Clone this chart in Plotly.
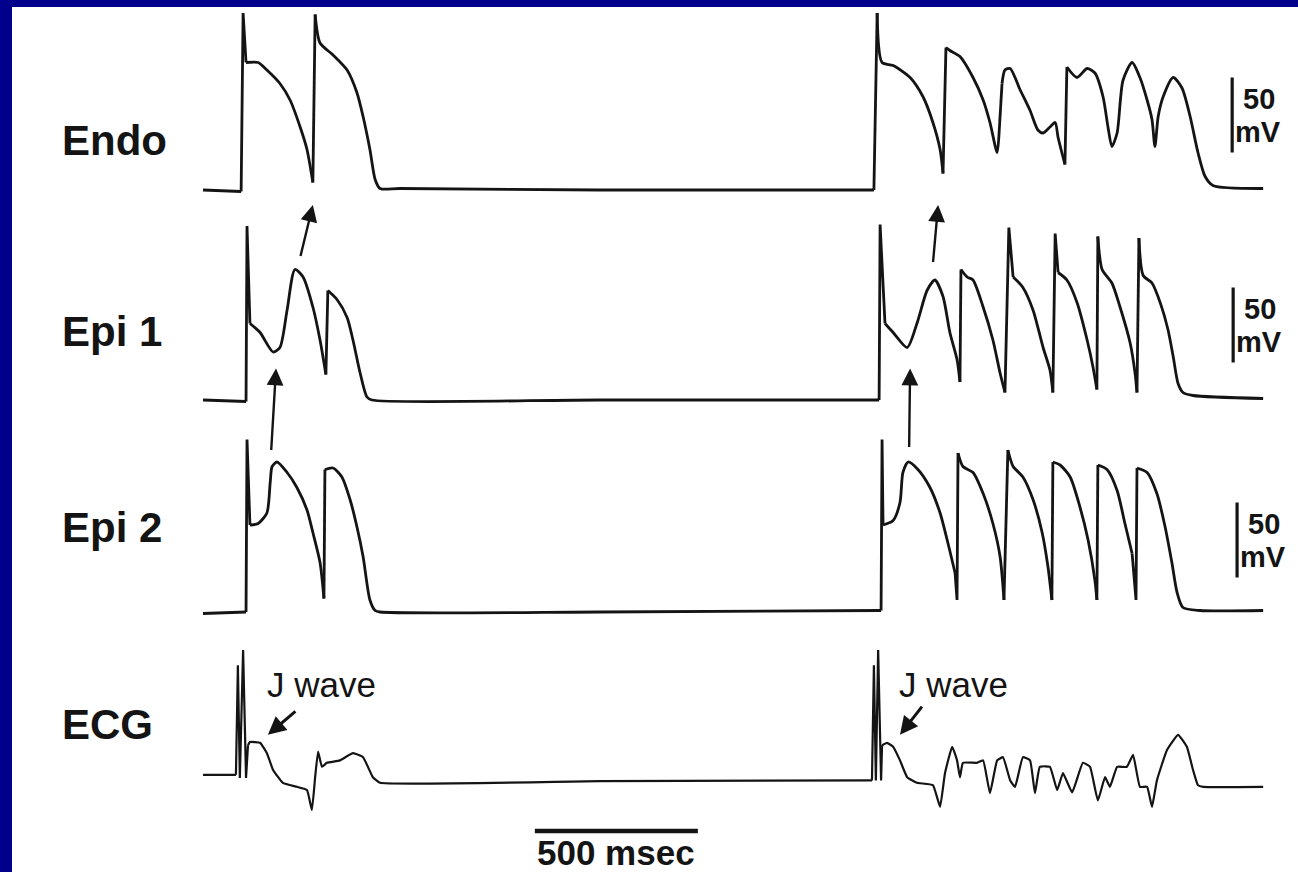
import plotly.graph_objects as go

# ---------------- data (time in ms, potentials in mV) ----------------
endo_t = [0, 117, 123, 132, 169, 196, 236, 267, 298, 319, 337, 344, 359, 399, 442, 472, 491, 512, 528, 543,
          604, 1218, 2058,
          2068, 2083, 2117, 2169, 2209, 2239, 2261, 2270, 2279, 2291, 2322, 2362, 2393, 2414, 2436, 2442, 2451,
          2460, 2476, 2506, 2537, 2561, 2577, 2598, 2614, 2623, 2644, 2650, 2681, 2712, 2736, 2761, 2776, 2788,
          2804, 2822, 2850, 2874, 2896, 2911, 2920, 2930, 2945, 2976, 3003, 3028, 3052, 3074, 3098, 3252]
endo_v = [-85, -86, 33, 0, 0, -5, -14, -25, -43, -58, -80, 32, 13, 5, -5, -20, -36, -58, -78, -84,
          -84, -85, -85,
          33, 0, -2, -10, -23, -40, -58, -74, 10, 8, 4, -10, -25, -40, -60, -47, -14,
          -5, -4, -18, -32, -45, -47, -43, -40, -50, -68, -3, -10, -4, -7, -23, -43, -56,
          -47, -12, 0, -10, -25, -38, -56, -36, -23, -10, -17, -36, -60, -76, -82, -84]

epi1_t = [0, 132, 135, 144, 175, 215, 236, 258, 282, 307, 337, 359, 377, 383, 411, 442, 460, 482, 503, 518,
          1218, 2074,
          2077, 2092, 2117, 2160, 2190, 2221, 2245, 2270, 2291, 2313, 2322, 2325, 2344, 2362, 2393, 2423, 2445,
          2460, 2472, 2485, 2515, 2546, 2577, 2598, 2607, 2614, 2623, 2650, 2681, 2712, 2730, 2742, 2745, 2758,
          2788, 2813, 2844, 2859, 2865, 2871, 2884, 2911, 2936, 2960, 2976, 2991, 3006, 3037, 3252]
epi1_v = [-85, -86, 31, -34, -40, -53, -50, -25, 2, -3, -23, -45, -68, -12, -18, -30, -45, -67, -83, -85,
          -85, -85,
          32, -34, -40, -50, -34, -12, -5, -16, -40, -58, -73, 2, -3, -5, -23, -45, -67,
          -80, 30, -3, -10, -25, -50, -65, -80, 26, 0, -5, -20, -45, -63, -78, 24, 2,
          -7, -23, -47, -67, -80, 23, -2, -7, -20, -38, -56, -74, -80, -82, -84]

epi2_t = [0, 132, 135, 144, 169, 196, 206, 212, 227, 258, 288, 319, 337, 359, 371, 374, 399, 426, 451, 472,
          491, 512, 528, 543, 1218, 2080,
          2083, 2086, 2117, 2138, 2147, 2163, 2193, 2230, 2261, 2285, 2307, 2313, 2316, 2331, 2362, 2393, 2423,
          2445, 2457, 2469, 2485, 2515, 2546, 2574, 2592, 2604, 2607, 2629, 2660, 2690, 2715, 2736, 2742, 2745,
          2773, 2804, 2828, 2850, 2862, 2865, 2896, 2926, 2951, 2972, 2988, 3006, 3058, 3252]
epi2_v = [-86, -85, 30, -27, -26, -19, 1, 12, 15, 8, -2, -17, -32, -52, -76, 10, 11, 5, -10, -28,
          -48, -77, -84, -85, -85, -84,
          30, -27, -24, -12, 8, 15, 10, -2, -19, -39, -59, -77, 21, 12, 8, -6, -26,
          -48, -77, 23, 12, 5, -10, -32, -55, -77, 15, 13, 5, -15, -37, -64, -77, 13,
          10, -4, -26, -46, -77, 11, 8, -6, -28, -52, -72, -82, -84, -84]

ecg_t = [0, 101, 107, 113, 123, 132, 138, 144, 175, 196, 215, 245, 288, 319, 334, 344, 353, 365, 380, 420,
         460, 491, 521, 543, 1218, 2052,
         2058, 2064, 2071, 2080, 2083, 2098, 2117, 2138, 2160, 2190, 2239, 2261, 2276, 2298, 2313, 2322, 2331,
         2374, 2393, 2414, 2436, 2454, 2476, 2491, 2515, 2537, 2552, 2567, 2598, 2620, 2638, 2666, 2699, 2721,
         2745, 2767, 2782, 2804, 2834, 2853, 2874, 2896, 2911, 2926, 2957, 2991, 3018, 3037, 3052, 3068, 3252]
ecg_mv = [0.04, 0.04, 1.41, 0.0, 1.6, 0.0, 0.41, 0.45, 0.44, 0.31, 0.10, -0.06, -0.11, -0.15, -0.40, 0.01, 0.33,
          0.14, 0.19, 0.22, 0.31, 0.26, 0.01, -0.06, -0.04, -0.03,
          1.41, -0.03, 1.6, -0.03, 0.41, 0.44, 0.39, 0.22, 0.01, -0.06, -0.09, -0.36, 0.06, 0.39, 0.22, 0.01, 0.19,
          0.19, 0.22, -0.19, 0.22, 0.26, -0.03, -0.11, 0.26, 0.22, -0.19, 0.14, 0.14, -0.15, 0.06, -0.18, 0.19, 0.14,
          -0.28, 0.01, -0.11, 0.14, 0.14, 0.29, -0.11, -0.11, -0.36, -0.03, 0.35, 0.54, 0.39, 0.10, -0.09, -0.11, -0.11]

trace_labels = ["Endo", "Epi 1", "Epi 2", "ECG"]
scale_time_ms = 500
scale_volt_mv = 50
jwave_label = "J wave"

# ---------------- layout helpers ----------------
W, H = 1298, 872
ML, MT = 12, 7
PX_PER_MV = 1.5          # vertical scale of action potentials
MS_PER_PX = 500 / 163.0  # horizontal scale
ECG_GAIN = 80 / PX_PER_MV  # display units per ECG mV
X0_PX = 203               # pixel of t = 0

def yd(px):
    """display y value for a pixel row"""
    return (H - px) / PX_PER_MV

def td(px):
    return (px - X0_PX) * MS_PER_PX

OFF = {
    "Endo": yd(190) + 85,
    "Epi 1": yd(400) + 85,
    "Epi 2": yd(612) + 85,
}
ECG_BASE = yd(778)

def ap_y(name, vals):
    return [OFF[name] + v for v in vals]

def ecg_y(vals):
    return [ECG_BASE + ECG_GAIN * v for v in vals]

INK = "#141414"
fig = go.Figure()


def add_record(t, y, width, smoothing, thr=2.5):
    """Steep stretches (upstrokes, spikes) drawn straight, the rest as smooth splines."""
    n = len(t)
    steep = [abs(y[i + 1] - y[i]) / max(t[i + 1] - t[i], 1e-9) > thr for i in range(n - 1)]
    i = 0
    while i < n - 1:
        j = i
        while j < n - 1 and steep[j] == steep[i]:
            j += 1
        shape = "linear" if steep[i] else "spline"
        fig.add_trace(go.Scatter(x=t[i:j + 1], y=y[i:j + 1], mode="lines", hoverinfo="skip",
                                 line=dict(color=INK, width=width, shape=shape, smoothing=smoothing)))
        i = j


add_record(endo_t, ap_y("Endo", endo_v), 2.8, 0.7)
add_record(epi1_t, ap_y("Epi 1", epi1_v), 2.8, 0.7)
add_record(epi2_t, ap_y("Epi 2", epi2_v), 2.8, 0.7)
add_record(ecg_t, ecg_y(ecg_mv), 2.2, 0.35)

# 500 msec scale bar
bar_start = 1018
fig.add_trace(go.Scatter(x=[bar_start, bar_start + scale_time_ms], y=[yd(831), yd(831)], mode="lines",
                         line=dict(color=INK, width=4.5), hoverinfo="skip"))
fig.add_annotation(x=bar_start + scale_time_ms / 2, y=yd(852), text="500 msec", showarrow=False,
                   font=dict(family="Liberation Sans", size=35, color=INK, weight="bold"),
                   xanchor="center", yanchor="middle")

# 50 mV bars
bars = [("Endo", 3157, -60), ("Epi 1", 3160, -60), ("Epi 2", 3172, -62)]
for name, tx, vlo in bars:
    fig.add_trace(go.Scatter(x=[tx, tx], y=[OFF[name] + vlo, OFF[name] + vlo + scale_volt_mv], mode="lines",
                             line=dict(color=INK, width=3.2), hoverinfo="skip"))
    fig.add_annotation(x=tx + 26, y=OFF[name] + vlo + scale_volt_mv * 0.72, text=str(scale_volt_mv),
                       showarrow=False, xanchor="left", yanchor="middle",
                       font=dict(family="Liberation Sans", size=29, color=INK, weight="bold"))
    fig.add_annotation(x=tx + 3, y=OFF[name] + vlo + scale_volt_mv * 0.27, text="mV",
                       showarrow=False, xanchor="left", yanchor="middle",
                       font=dict(family="Liberation Sans", size=29, color=INK, weight="bold"))

# trace labels
label_y = [yd(140), yd(331), yd(527), yd(724)]
for lab, ly in zip(trace_labels, label_y):
    fig.add_annotation(x=td(60), y=ly, text=lab, showarrow=False, xanchor="left", yanchor="middle",
                       font=dict(family="Liberation Sans", size=42, color=INK, weight="bold"))

# propagation arrows: (head trace, head t, head v), (tail trace, tail t, tail v)
arrows = [
    (("Endo", 337, -95), ("Epi 1", 298, 10)),
    (("Epi 1", 224, -64), ("Epi 2", 209, 22)),
    (("Endo", 2255, -95), ("Epi 1", 2239, 6)),
    (("Epi 1", 2169, -64), ("Epi 2", 2166, 24)),
]
for (hn, ht, hv), (tn, tt, tv) in arrows:
    fig.add_annotation(x=ht, y=OFF[hn] + hv, ax=tt, ay=OFF[tn] + tv, axref="x", ayref="y",
                       xref="x", yref="y", text="", showarrow=True, arrowhead=2, arrowsize=1.4,
                       arrowwidth=2.4, arrowcolor=INK, standoff=0, startstandoff=0)

# J wave labels and arrows (ECG coordinates)
jwaves = [((199, 0.54), (288, 0.85), 190), ((2138, 0.54), (2209, 0.91), 2129)]
for (ht, hv), (tt, tv), lx in jwaves:
    fig.add_annotation(x=ht, y=ECG_BASE + ECG_GAIN * hv, ax=tt, ay=ECG_BASE + ECG_GAIN * tv,
                       axref="x", ayref="y", xref="x", yref="y", text="", showarrow=True,
                       arrowhead=2, arrowsize=1.2, arrowwidth=3, arrowcolor=INK, standoff=0)
    fig.add_annotation(x=lx, y=yd(684), text=jwave_label, showarrow=False, xanchor="left", yanchor="middle",
                       font=dict(family="Liberation Sans", size=35, color=INK))

fig.update_layout(
    width=W, height=H,
    margin=dict(l=ML, r=0, t=MT, b=0, pad=0, autoexpand=False),
    paper_bgcolor="#00008C", plot_bgcolor="white",
    showlegend=False,
    xaxis=dict(range=[td(ML), td(W)], visible=False, fixedrange=True),
    yaxis=dict(range=[yd(H), yd(MT)], visible=False, fixedrange=True),
)
fig.write_html("out.html", config={"displayModeBar": False},
               post_script="document.body.style.margin='0';document.body.style.overflow='hidden';")
